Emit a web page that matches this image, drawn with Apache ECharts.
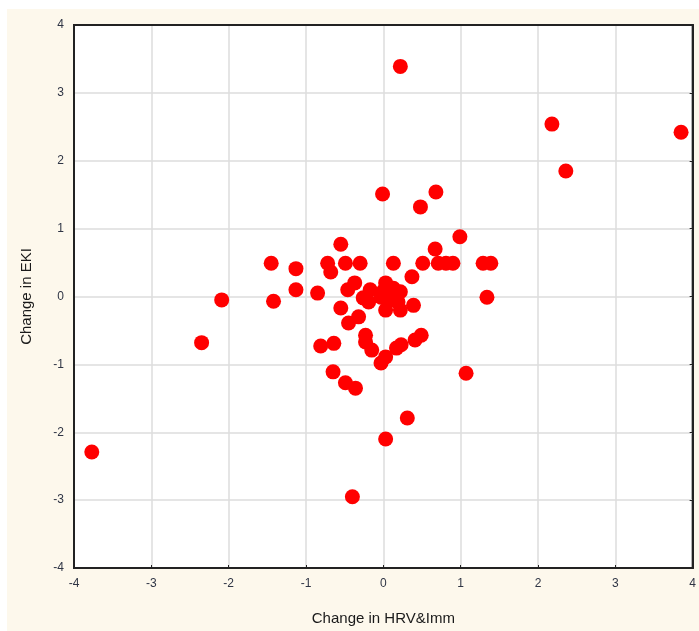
<!DOCTYPE html>
<html>
<head>
<meta charset="utf-8">
<script src="https://cdn.jsdelivr.net/npm/echarts@6/dist/echarts.min.js"></script>
<style>
  html, body { margin: 0; padding: 0; background: #fff; }
  #chart { width: 699px; height: 631px; }
</style>
</head>
<body>
<div id="chart"></div>
<script>
// change in HRV&Imm (x) and change in EKI (y)
var hrvImm = [
  -3.77, -2.35, -2.09, -1.45, -1.42, -1.13, -1.13, -0.85, -0.81, -0.64,
  -0.72, -0.68, -0.55, -0.49, -0.30, -0.37, -0.46, -0.17, -0.26, -0.19,
  -0.55, -0.45, -0.32, -0.23, -0.23, -0.15, -0.03, 0.03, 0.17, 0.23,
  0.41, 0.49, -0.65, -0.49, -0.36, -0.40, 0.03, 0.31, 1.07, 0.03,
  0.13, 0.22, -0.03, 0.19, 0.03, 0.22, 0.39, 0.13, 0.37, 0.51,
  0.67, 0.71, 0.81, 0.90, 0.99, 1.29, 1.39, 1.34, 0.22, -0.01,
  0.48, 0.68, 2.18, 2.36, 3.85, 0.10, 0.00
];
var eki = [
  -2.29, -0.68, -0.05, 0.49, -0.07, 0.41, 0.10, 0.05, -0.73, -0.69,
  0.49, 0.36, 0.77, 0.49, 0.49, 0.20, 0.10, 0.10, -0.02, -0.08,
  -0.17, -0.39, -0.30, -0.57, -0.67, -0.79, -0.98, -0.89, -0.76, -0.71,
  -0.64, -0.57, -1.11, -1.27, -1.35, -2.95, -2.10, -1.79, -1.13, 0.20,
  0.12, 0.07, -0.01, -0.08, -0.20, -0.20, -0.13, 0.49, 0.29, 0.49,
  0.70, 0.49, 0.49, 0.49, 0.88, 0.49, 0.49, -0.01, 3.39, 1.51,
  1.32, 1.54, 2.54, 1.85, 2.42, -0.05, 0.08
];
var ticks = [-4, -3, -2, -1, 0, 1, 2, 3, 4];

var points = hrvImm.map(function (x, i) { return [x, eki[i]]; });

var chart = echarts.init(document.getElementById("chart"));

var labelStyle = {
  color: "#2f3545",
  fontFamily: "Liberation Sans",
  fontSize: 12
};
var gridLine = { show: true, lineStyle: { color: "#dcdcdc", width: 1.5 } };
var frameLine = { show: true, onZero: false, lineStyle: { color: "#222", width: 2 } };
var innerTick = { show: true, inside: true, length: 3, lineStyle: { color: "#222" } };

var option = {
  backgroundColor: "#ffffff",
  animation: false,
  graphic: [
    {
      type: "rect",
      z: -10,
      shape: { x: 7, y: 9, width: 699, height: 631 },
      style: { fill: "#fdf8ec" }
    }
  ],
  grid: {
    left: 74,
    right: 4,
    top: 25,
    bottom: 63,
    show: true,
    backgroundColor: "#ffffff",
    borderColor: "#222",
    borderWidth: 2
  },
  xAxis: [
    {
      type: "value",
      min: ticks[0],
      max: ticks[ticks.length - 1],
      interval: 1,
      name: "Change in HRV&Imm",
      nameLocation: "middle",
      nameGap: 43,
      nameTextStyle: { color: "#1a1a1a", fontFamily: "Liberation Sans", fontSize: 15 },
      axisLine: frameLine,
      axisTick: innerTick,
      axisLabel: Object.assign({ margin: 10 }, labelStyle),
      splitLine: gridLine
    },
    {
      type: "value",
      position: "top",
      min: ticks[0],
      max: ticks[ticks.length - 1],
      interval: 1,
      axisLine: frameLine,
      axisTick: { show: false },
      axisLabel: { show: false },
      splitLine: { show: false }
    }
  ],
  yAxis: [
    {
      type: "value",
      min: ticks[0],
      max: ticks[ticks.length - 1],
      interval: 1,
      name: "Change in EKI",
      nameLocation: "middle",
      nameGap: 40,
      nameTextStyle: { color: "#1a1a1a", fontFamily: "Liberation Sans", fontSize: 15 },
      axisLine: frameLine,
      axisTick: { show: false },
      axisLabel: Object.assign({ margin: 10 }, labelStyle),
      splitLine: gridLine
    },
    {
      type: "value",
      position: "right",
      min: ticks[0],
      max: ticks[ticks.length - 1],
      interval: 1,
      axisLine: frameLine,
      axisTick: innerTick,
      axisLabel: { show: false },
      splitLine: { show: false }
    }
  ],
  series: [
    {
      type: "scatter",
      data: points,
      symbol: "circle",
      symbolSize: 15,
      itemStyle: { color: "#ff0000", opacity: 1 }
    }
  ]
};

chart.setOption(option);
</script>
</body>
</html>
